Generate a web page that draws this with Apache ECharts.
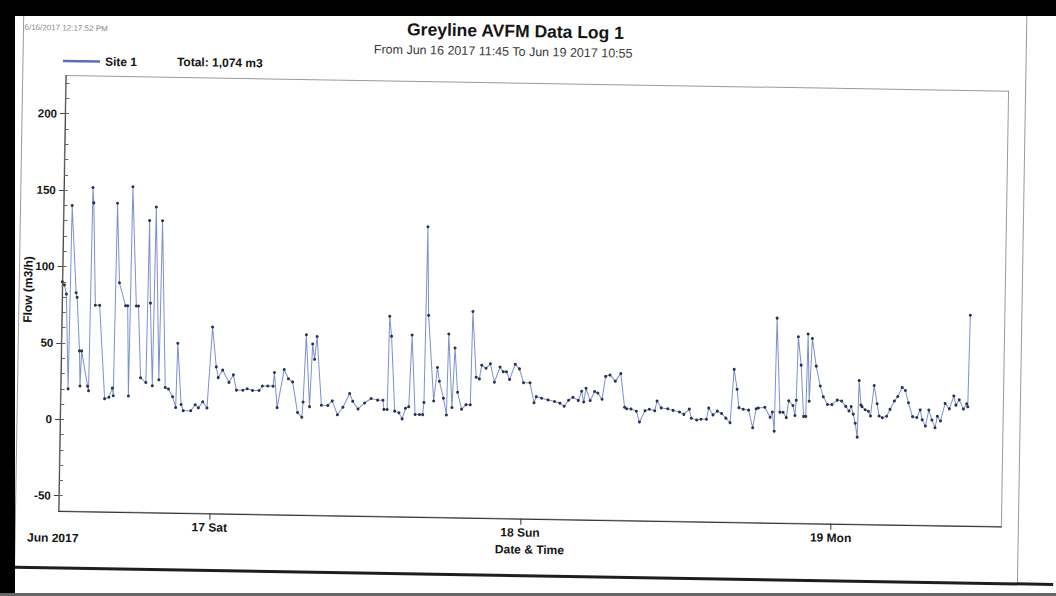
<!DOCTYPE html>
<html>
<head>
<meta charset="utf-8">
<title>Greyline AVFM Data Log 1</title>
<script src="https://cdn.jsdelivr.net/npm/echarts@6/dist/echarts.min.js"></script>
<style>
  html, body { margin: 0; padding: 0; background: #ffffff; }
  #page { position: relative; width: 1056px; height: 596px; overflow: hidden; background: #ffffff; }
  #chart { position: absolute; left: 0; top: 0; width: 1056px; height: 596px;
           transform-origin: 60px 420px; transform: rotate(0.95deg); background: #ffffff; }
  .band { position: absolute; background: #000; }
</style>
</head>
<body>
<div id="page">
  <div id="chart"></div>
  <div class="band" style="left:0;top:0;width:1056px;height:16px;"></div>
  <div class="band" style="left:0;top:0;width:15px;height:596px;"></div>
  <div class="band" style="left:0;top:593px;width:1056px;height:3px;background:#666;"></div>
</div>
<script>
// Logged readings: timestamp (2017, local time) and flow in m3/h
const times = [
  '06-16 12:20','06-16 12:30','06-16 12:40','06-16 12:55','06-16 13:00','06-16 13:25','06-16 13:30','06-16 13:45',
  '06-16 13:50','06-16 13:55','06-16 14:25','06-16 14:30','06-16 14:35','06-16 14:40','06-16 14:55','06-16 15:15',
  '06-16 15:45','06-16 16:05','06-16 16:20','06-16 16:25','06-16 16:30','06-16 16:45','06-16 17:15','06-16 17:25',
  '06-16 17:35','06-16 17:40','06-16 18:05','06-16 18:15','06-16 18:30','06-16 18:55','06-16 19:00','06-16 19:10',
  '06-16 19:25','06-16 19:30','06-16 19:55','06-16 20:00','06-16 20:25','06-16 20:40','06-16 21:00','06-16 21:15',
  '06-16 21:20','06-16 21:40','06-16 21:50','06-16 22:25','06-16 22:45','06-16 23:00','06-16 23:20','06-16 23:40',
  '06-17 00:00','06-17 00:20','06-17 00:30','06-17 00:50','06-17 01:20','06-17 01:40','06-17 01:55','06-17 02:25',
  '06-17 02:45','06-17 03:10','06-17 03:40','06-17 03:55','06-17 04:20','06-17 04:45','06-17 04:50','06-17 05:05',
  '06-17 05:35','06-17 05:55','06-17 06:15','06-17 06:40','06-17 07:00','06-17 07:05','06-17 07:15','06-17 07:35',
  '06-17 07:45','06-17 07:55','06-17 08:05','06-17 08:30','06-17 09:00','06-17 09:20','06-17 09:45','06-17 10:10',
  '06-17 10:40','06-17 10:55','06-17 11:20','06-17 11:50','06-17 12:20','06-17 12:50','06-17 13:15','06-17 13:20',
  '06-17 13:35','06-17 13:40','06-17 13:50','06-17 14:10','06-17 14:30','06-17 14:45','06-17 15:00','06-17 15:15',
  '06-17 15:25','06-17 15:45','06-17 16:05','06-17 16:20','06-17 16:25','06-17 16:30','06-17 16:40','06-17 17:10',
  '06-17 17:25','06-17 17:35','06-17 17:55','06-17 18:10','06-17 18:15','06-17 18:35','06-17 18:45','06-17 19:00',
  '06-17 19:20','06-17 19:40','06-17 20:00','06-17 20:05','06-17 20:25','06-17 20:40','06-17 20:50','06-17 21:10',
  '06-17 21:30','06-17 21:50','06-17 22:15','06-17 22:30','06-17 22:45','06-17 23:00','06-17 23:25','06-17 23:45',
  '06-18 00:05','06-18 00:35','06-18 00:55','06-18 01:05','06-18 01:30','06-18 02:00','06-18 02:30','06-18 02:55',
  '06-18 03:15','06-18 03:35','06-18 03:55','06-18 04:20','06-18 04:35','06-18 04:45','06-18 04:55','06-18 05:15',
  '06-18 05:35','06-18 05:50','06-18 06:10','06-18 06:25','06-18 06:45','06-18 07:10','06-18 07:35','06-18 07:55',
  '06-18 08:05','06-18 08:25','06-18 08:50','06-18 09:05','06-18 09:30','06-18 09:50','06-18 10:15','06-18 10:25',
  '06-18 10:45','06-18 11:15','06-18 11:40','06-18 12:10','06-18 12:30','06-18 12:55','06-18 13:05','06-18 13:30',
  '06-18 13:50','06-18 14:15','06-18 14:25','06-18 14:45','06-18 15:05','06-18 15:25','06-18 15:45','06-18 16:05',
  '06-18 16:20','06-18 16:35','06-18 16:45','06-18 17:05','06-18 17:30','06-18 17:50','06-18 18:05','06-18 18:15',
  '06-18 18:45','06-18 19:10','06-18 19:20','06-18 19:30','06-18 19:35','06-18 19:55','06-18 20:10','06-18 20:25',
  '06-18 20:35','06-18 20:55','06-18 21:05','06-18 21:10','06-18 21:15','06-18 21:30','06-18 21:45','06-18 21:55',
  '06-18 22:00','06-18 22:10','06-18 22:20','06-18 22:40','06-18 23:00','06-18 23:15','06-18 23:35','06-18 23:55',
  '06-19 00:20','06-19 00:40','06-19 01:00','06-19 01:15','06-19 01:25','06-19 01:35','06-19 01:45','06-19 01:55',
  '06-19 02:00','06-19 02:10','06-19 02:15','06-19 02:30','06-19 02:45','06-19 02:55','06-19 03:10','06-19 03:25',
  '06-19 03:35','06-19 03:50','06-19 04:10','06-19 04:25','06-19 04:45','06-19 05:00','06-19 05:20','06-19 05:35',
  '06-19 05:50','06-19 06:10','06-19 06:30','06-19 06:45','06-19 06:55','06-19 07:10','06-19 07:25','06-19 07:40',
  '06-19 07:55','06-19 08:05','06-19 08:20','06-19 08:40','06-19 09:00','06-19 09:20','06-19 09:30','06-19 09:45',
  '06-19 10:05','06-19 10:20','06-19 10:25','06-19 10:30'
];
const flow = [
  90, 88, 82, 20, 140, 83, 80, 45,
  22, 45, 22, 19, 152, 142, 75, 75,
  14, 15, 21, 16, 142, 90, 75, 75,
  16, 153, 75, 75, 28, 25, 131, 77,
  23, 140, 27, 131, 22, 21, 16, 9,
  51, 11, 7, 7, 11, 9, 13, 9,
  62, 36, 29, 34, 26, 31, 21, 21,
  22, 21, 21, 24, 24, 24, 33, 10,
  35, 29, 27, 7, 4, 14, 58, 11,
  52, 42, 57, 12, 12, 15, 6, 11,
  20, 15, 10, 14, 17, 16, 16, 10,
  10, 71, 58, 9, 8, 4, 11, 12,
  59, 7, 7, 7, 15, 130, 72, 16,
  38, 29, 18, 7, 60, 12, 51, 22,
  11, 14, 14, 75, 32, 31, 40, 38,
  41, 29, 39, 36, 36, 31, 41, 38,
  29, 29, 16, 20, 19, 18, 17, 16,
  14, 18, 20, 18, 24, 17, 26, 18,
  24, 23, 19, 34, 35, 31, 36, 14,
  13, 13, 11.5, 4.5, 12, 13, 12, 18.5,
  14, 13.5, 12.5, 11.5, 10, 13.5, 7.5, 6.5,
  7, 7, 14.5, 10, 12.5, 11, 8, 5,
  40, 27, 15, 14, 13.5, 2, 14.5, 15,
  15.5, 9, 12.5, 0, 74, 12.5, 12.5, 9,
  20, 17, 10.5, 20.5, 62, 43.5, 10, 10,
  64, 20, 61, 43, 30, 23, 18, 18,
  21, 20.5, 17, 14, 17, 12, 6, -3,
  34, 18, 17, 15, 14, 11, 31, 19,
  11, 10, 11, 15.5, 21, 24, 30, 28,
  20, 11, 10.5, 15.5, 9, 5, 15.5, 9,
  4, 11.5, 8.5, 20, 16.5, 25, 19, 22.5,
  16.5, 20, 18, 78
];
// Axis range and tick positions
const axisStart = '06-16 12:20';
const axisEnd = '06-19 13:10';
const dayTicks = ['06-17 00:00', '06-18 00:00', '06-19 00:00'];
const flowLabels = [-50, 0, 50, 100, 150, 200];
const flowMinorTicks = [-50, -40, -30, -20, -10, 0, 10, 20, 30, 40, 50, 60, 70, 80, 90, 100,
  110, 120, 130, 140, 150, 160, 170, 180, 190, 200, 210, 220];
const flowMin = -60, flowMax = 225;
const dayNames = ['Sun', 'Mon', 'Tue', 'Wed', 'Thu', 'Fri', 'Sat'];

function toDate(s) {
  return new Date('2017-' + s.replace(' ', 'T') + ':00').getTime();
}

const seriesData = times.map((t, i) => [toDate(t), flow[i]]);
const textColor = '#141414';
const font = 'Liberation Sans, Arial, sans-serif';

const chart = echarts.init(document.getElementById('chart'), null, { renderer: 'svg' });
chart.setOption({
  animation: false,
  backgroundColor: '#ffffff',
  title: [{
    text: 'Greyline AVFM Data Log 1',
    left: 504, top: 10, textAlign: 'center',
    textStyle: { fontFamily: font, fontSize: 17.5, lineHeight: 17, fontWeight: 'bold', color: textColor }
  }, {
    text: 'From Jun 16 2017 11:45 To Jun 19 2017 10:55',
    left: 492, top: 33, textAlign: 'center',
    textStyle: { fontFamily: font, fontSize: 12.5, lineHeight: 12.5, fontWeight: 'normal', color: '#3a3a3a' }
  }],
  legend: {
    left: 52, top: 50,
    icon: 'rect', itemWidth: 37, itemHeight: 2.5, itemGap: 20,
    data: [{ name: 'Site 1', itemStyle: { color: '#5a6db5' } }],
    textStyle: { fontFamily: font, fontSize: 12, fontWeight: 'bold', color: textColor }
  },
  grid: {
    left: 60, right: 53, top: 75.5, bottom: 85,
    show: true, borderColor: '#9a9a9a', borderWidth: 1,
    containLabel: false, outerBoundsMode: 'none'
  },
  // time runs along a numeric axis in milliseconds so the day ticks can sit at midnight
  xAxis: {
    type: 'value',
    min: toDate(axisStart), max: toDate(axisEnd),
    name: 'Date & Time', nameLocation: 'middle', nameGap: 24,
    nameTextStyle: { fontFamily: font, fontSize: 12, fontWeight: 'bold', color: textColor },
    axisLine: { show: true, onZero: false, lineStyle: { color: '#333', width: 1 } },
    axisTick: { show: true, customValues: dayTicks.map(toDate), length: 6, lineStyle: { color: '#333' } },
    axisLabel: {
      customValues: dayTicks.map(toDate), margin: 8,
      fontFamily: font, fontSize: 12, fontWeight: 'bold', color: textColor,
      formatter: function (v) { const d = new Date(v); return d.getDate() + ' ' + dayNames[d.getDay()]; }
    },
    splitLine: { show: false }
  },
  yAxis: [{
    type: 'value', min: flowMin, max: flowMax,
    axisLine: { show: true, onZero: false, lineStyle: { color: '#444', width: 1 } },
    axisTick: { show: true, inside: true, length: 4, customValues: flowMinorTicks, lineStyle: { color: '#666' } },
    axisLabel: { customValues: flowLabels, margin: 8, fontFamily: font, fontSize: 11.5, fontWeight: 'bold', color: textColor },
    splitLine: { show: false }
  }, {
    type: 'value', min: flowMin, max: flowMax, position: 'left', offset: 0,
    axisLine: { show: false },
    axisTick: { show: true, length: 5, customValues: flowLabels, lineStyle: { color: '#444' } },
    axisLabel: { show: false },
    splitLine: { show: false }
  }],
  graphic: [
    { type: 'text', left: 18, top: 24, style: { text: '6/16/2017 12:17:52 PM', fontFamily: font, fontSize: 8, fill: '#8a8a8a' } },
    { type: 'text', left: 171, top: 54, style: { text: 'Total: 1,074 m3', fontFamily: font, fontSize: 12, fontWeight: 'bold', fill: textColor } },
    { type: 'text', left: 29, top: 532, style: { text: 'Jun 2017', fontFamily: font, fontSize: 12, fontWeight: 'bold', fill: textColor } },
    // vertical axis title
    { type: 'text', x: 26, y: 290, rotation: Math.PI / 2,
      style: { text: 'Flow (m3/h)', align: 'center', verticalAlign: 'middle', fontFamily: font, fontSize: 12, fontWeight: 'bold', fill: textColor } },
    { type: 'line', shape: { x1: 17, y1: 0, x2: 17, y2: 567 }, style: { stroke: '#9a9a9a', lineWidth: 1 } },
    { type: 'line', shape: { x1: 1020, y1: 0, x2: 1020, y2: 567 }, style: { stroke: '#9a9a9a', lineWidth: 1 } },
    { type: 'line', shape: { x1: 0, y1: 568, x2: 1056, y2: 568 }, style: { stroke: '#1e1e1e', lineWidth: 3 } }
  ],
  series: [{
    name: 'Site 1',
    type: 'line',
    data: seriesData,
    showAllSymbol: true,
    symbol: 'circle', symbolSize: 3,
    itemStyle: { color: '#2c3149' },
    lineStyle: { color: '#7c90d0', width: 1 },
    emphasis: { disabled: true }
  }]
});
</script>
</body>
</html>
